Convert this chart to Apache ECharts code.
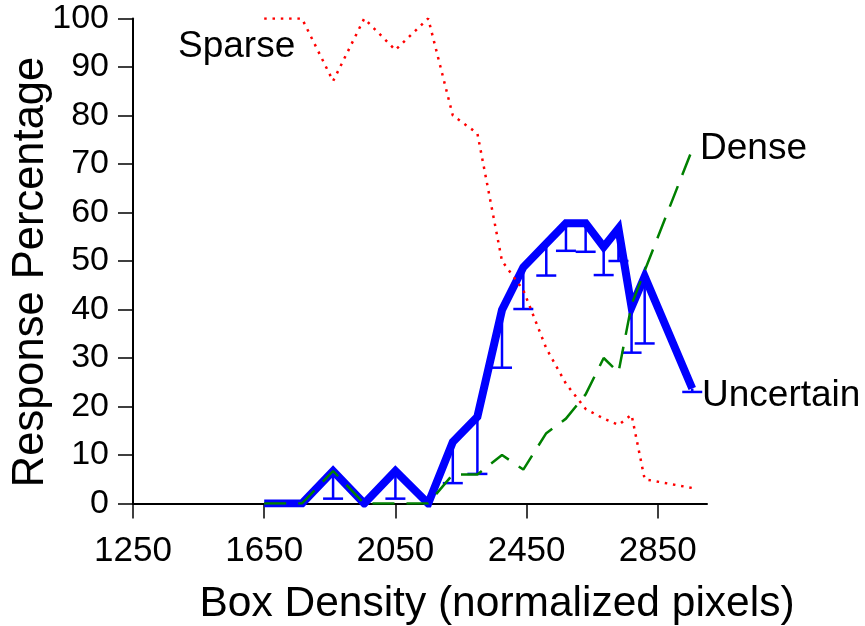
<!DOCTYPE html>
<html>
<head>
<meta charset="utf-8">
<script src="https://cdn.jsdelivr.net/npm/echarts@6/dist/echarts.min.js"></script>
<style>
  html, body { margin: 0; padding: 0; background: #fff; }
  #chart { width: 865px; height: 626px; }
</style>
</head>
<body>
<div id="chart"></div>
<script>
  // box density bins (normalized pixels)
  const density = [1650, 1765, 1860, 1955, 2050, 2150, 2225, 2300, 2375, 2440, 2510, 2570, 2630, 2685, 2730, 2770, 2810, 2955]
  // response percentages
  const sparse = [100, 100, 87.1, 100, 93.5, 100, 80, 76.3, 50, 44, 32, 24.7, 19.5, 17.5, 16.2, 18.3, 5, 3.2]
  const dense = [0, 0, 6.7, 0, 0, 0, 6, 6, 10, 7, 14.5, 17.5, 22.5, 30, 27, 41, 48, 73]
  const uncertain = [0, 0, 6.7, 0, 6.7, 0, 12.7, 17.9, 39.9, 48.7, 53.6, 57.8, 57.8, 52.9, 56.7, 40.5, 46.8, 23.7]
  // lower end of the error bar under each uncertain point
  const uncertainLow = [0, 0, 1, 0, 1, 0, 4.2, 6.1, 28, 40.1, 47, 52.1, 51.9, 47.1, 50, 31.1, 33, 23]
  const xTicks = [1250, 1650, 2050, 2450, 2850]

  const font = 'Liberation Sans, Arial, sans-serif'
  const pair = arr => density.map((d, i) => [d, arr[i]])

  // only points that actually have a bar
  const errData = []
  density.forEach((d, i) => {
    if (uncertainLow[i] < uncertain[i]) errData.push([d, uncertain[i], uncertainLow[i]])
  })

  const chart = echarts.init(document.getElementById('chart'))
  const option = {
    animation: false,
    backgroundColor: '#fff',
    grid: { left: 133, top: 18.5, right: 158, bottom: 122.5 },
    xAxis: {
      type: 'value',
      min: 1250,
      max: 3000,
      splitLine: { show: false },
      axisLine: { lineStyle: { color: '#000', width: 2 } },
      axisTick: { length: 15, customValues: xTicks, lineStyle: { color: '#000', width: 1.5 } },
      axisLabel: {
        customValues: xTicks,
        formatter: v => String(v),
        margin: 30, color: '#000', fontSize: 35, fontFamily: font
      }
    },
    yAxis: {
      type: 'value',
      min: 0,
      max: 100,
      interval: 10,
      splitLine: { show: false },
      axisLine: { show: true, lineStyle: { color: '#000', width: 2 } },
      axisTick: { show: true, length: 15, lineStyle: { color: '#000', width: 1.5 } },
      axisLabel: { margin: 24, color: '#000', fontSize: 34, fontFamily: font }
    },
    graphic: [
      { type: 'text', x: 497, y: 604, style: { text: 'Box Density (normalized pixels)', align: 'center', verticalAlign: 'middle', fill: '#000', font: '42.5px ' + font } },
      { type: 'text', x: 31, y: 272, rotation: Math.PI / 2, style: { text: 'Response Percentage', align: 'center', verticalAlign: 'middle', fill: '#000', font: '43.5px ' + font } },
      { type: 'text', x: 178, y: 47, style: { text: 'Sparse', align: 'left', verticalAlign: 'middle', fill: '#000', font: '37px ' + font } },
      { type: 'text', x: 700, y: 149, style: { text: 'Dense', align: 'left', verticalAlign: 'middle', fill: '#000', font: '37px ' + font } },
      { type: 'text', x: 702, y: 396, style: { text: 'Uncertain', align: 'left', verticalAlign: 'middle', fill: '#000', font: '37px ' + font } }
    ],
    series: [
      {
        name: 'Uncertain',
        type: 'line',
        data: pair(uncertain),
        symbol: 'none',
        z: 2,
        lineStyle: { color: '#0000ff', width: 8, join: 'miter', cap: 'butt' }
      },
      {
        name: 'Uncertain error',
        type: 'custom',
        data: errData,
        z: 3,
        renderItem: (params, api) => {
          const top = api.coord([api.value(0), api.value(1)])
          const low = api.coord([api.value(0), api.value(2)])
          const st = { stroke: '#0000ff', lineWidth: 2.5 }
          return {
            type: 'group',
            children: [
              { type: 'line', shape: { x1: top[0], y1: top[1], x2: low[0], y2: low[1] }, style: st },
              { type: 'line', shape: { x1: low[0] - 10, y1: low[1], x2: low[0] + 10, y2: low[1] }, style: st }
            ]
          }
        }
      },
      {
        name: 'Dense',
        type: 'line',
        data: pair(dense),
        symbol: 'none',
        z: 4,
        lineStyle: { color: '#008000', width: 2.5, type: [22, 12] }
      },
      {
        name: 'Sparse',
        type: 'line',
        data: pair(sparse),
        symbol: 'none',
        z: 5,
        lineStyle: { color: '#ff0000', width: 2.5, type: [2.5, 5.8] }
      }
    ]
  }
  chart.setOption(option)
</script>
</body>
</html>
